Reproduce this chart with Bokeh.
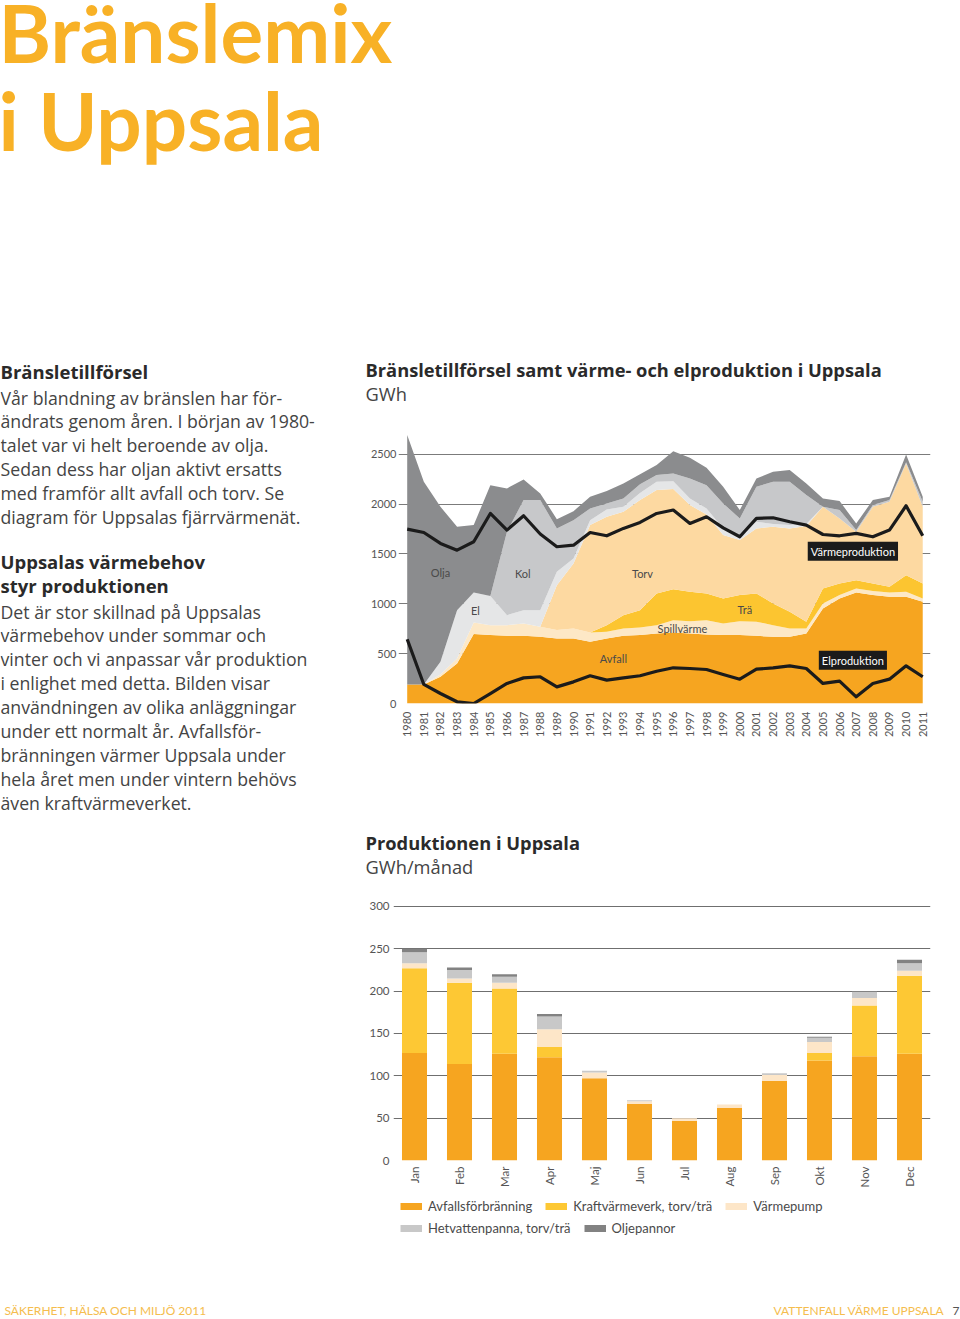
from math import pi
from bokeh.plotting import figure
from bokeh.models import (ColumnDataSource, Range1d, FactorRange, FixedTicker,
                          Label, Legend, LegendItem, Plot)
from bokeh.layouts import column, row
from bokeh.core.properties import value
from bokeh.embed import file_html
from bokeh.resources import INLINE

FONT = "Lato"
BODY_FONT = "Open Sans"

# ---------------- texts ----------------
page_title = ["Bränslemix", "i Uppsala"]
head1 = ["Bränsletillförsel"]
body1 = ["Vår blandning av bränslen har för-",
         "ändrats genom åren. I början av 1980-",
         "talet var vi helt beroende av olja.",
         "Sedan dess har oljan aktivt ersatts",
         "med framför allt avfall och torv. Se",
         "diagram för Uppsalas fjärrvärmenät."]
head2 = ["Uppsalas värmebehov", "styr produktionen"]
body2 = ["Det är stor skillnad på Uppsalas",
         "värmebehov under sommar och",
         "vinter och vi anpassar vår produktion",
         "i enlighet med detta. Bilden visar",
         "användningen av olika anläggningar",
         "under ett normalt år. Avfallsför-",
         "bränningen värmer Uppsala under",
         "hela året men under vintern behövs",
         "även kraftvärmeverket."]
chart1_title = "Bränsletillförsel samt värme- och elproduktion i Uppsala"
chart1_unit = "GWh"
chart2_title = "Produktionen i Uppsala"
chart2_unit = "GWh/månad"
footer_left = "SÄKERHET, HÄLSA OCH MILJÖ 2011"
footer_right = "VATTENFALL VÄRME UPPSALA"
page_no = "7"

# ---------------- area chart data (GWh) ----------------
years = list(range(1980, 2012))
avfall = [191, 191, 268, 401, 696, 686, 679, 679, 669, 652,
          652, 619, 652, 679, 686, 702, 712, 702, 692, 686,
          686, 679, 669, 669, 702, 953, 1053, 1114, 1087, 1070,
          1070, 1020]
spillvarme = [0, 0, 22, 50, 117, 100, 107, 124, 100, 84,
              100, 93, 67, 73, 76, 84, 124, 124, 144, 117,
              140, 141, 117, 83, 50, 50, 34, 40, 40, 44,
              50, 33]
tra = [0, 0, 0, 0, 0, 0, 0, 0, 0, 0,
       0, 0, 67, 134, 174, 318, 311, 294, 268, 250,
       261, 284, 217, 168, 67, 151, 117, 83, 77, 56,
       167, 151]
torv = [0, 0, 0, 0, 0, 0, 0, 0, 0, 451,
        652, 1077, 1087, 1037, 1104, 1036, 1003, 870, 792, 636,
        552, 652, 769, 836, 961, 819, 652, 485, 769, 853,
        1121, 769]
el = [0, 0, 128, 485, 301, 291, 100, 133, 167, 134,
      51, 50, 73, 50, 70, 84, 80, 67, 60, 67,
      50, 66, 28, 33, 20, 0, 0, 0, 0, 0,
      0, 0]
kol = [0, 0, 0, 0, 0, 0, 836, 1104, 1104, 435,
       384, 117, 60, 84, 90, 67, 77, 200, 234, 250,
       167, 351, 424, 435, 290, 0, 84, 17, 17, 17,
       12, 50]
olja = [2501, 2033, 1555, 836, 675, 1113, 435, 207, 67, 93,
        90, 117, 124, 150, 100, 100, 224, 207, 174, 168,
        84, 84, 100, 117, 117, 84, 90, 67, 50, 33,
        78, 50]
varmeproduktion = [1749, 1715, 1605, 1538, 1622, 1906, 1739, 1883, 1700, 1572,
                   1588, 1715, 1682, 1756, 1816, 1906, 1940, 1806, 1873, 1762,
                   1672, 1856, 1863, 1823, 1789, 1695, 1682, 1706, 1672, 1739,
                   1983, 1682]
elproduktion = [645, 191, 100, 17, 0, 100, 201, 257, 268, 167,
                217, 278, 234, 257, 278, 324, 358, 351, 341, 291,
                244, 344, 358, 378, 351, 201, 224, 67, 201, 244,
                378, 268]
area_ticks = [0, 500, 1000, 1500, 2000, 2500]

# ---------------- bar chart data (GWh/månad) ----------------
months = ["Jan", "Feb", "Mar", "Apr", "Maj", "Jun",
          "Jul", "Aug", "Sep", "Okt", "Nov", "Dec"]
avfallsforbranning = [127, 114, 126, 122, 97, 67, 47, 62, 94, 118, 123, 126]
kraftvarmeverk = [100, 96, 77, 12, 0, 0, 0, 0, 0, 9, 60, 92]
varmepump = [6, 5, 7, 21, 7, 3, 3, 4, 7, 13, 9, 6]
hetvattenpanna = [13, 10, 7, 15, 2, 1, 0, 0, 2, 5, 7, 9]
oljepannor = [4, 3, 3, 3, 0, 0, 0, 0, 0, 1, 1, 4]
bar_ticks = [0, 50, 100, 150, 200, 250, 300]
bar_labels = ["Avfallsförbränning", "Kraftvärmeverk, torv/trä", "Värmepump",
              "Hetvattenpanna, torv/trä", "Oljepannor"]

# ---------------- styles ----------------
C_TITLE = "#f8b126"
C_HEAD = "#2a2a2a"
C_BODY = "#444444"
C_AXIS = "#555555"
C_FOOT = "#f5bd4e"
area_colors = ["#f6a520", "#fde8c6", "#fcc530", "#fdd9a1", "#e5e6e7", "#c7c8ca", "#8b8c8e"]
bar_colors = ["#f6a520", "#fdc834", "#fde6c8", "#c8c8c8", "#828282"]
RIGHT_W = 595
BL, BR = 33, 30          # left / right borders of the area chart
BAR_BL = 28              # left border of the bar chart
CAN_UNALIGN = "frame_align" in Plot.properties()


def unalign(p):
    if CAN_UNALIGN:
        p.frame_align = False


def text_fig(w, h):
    p = figure(width=w, height=h, x_range=Range1d(0, w), y_range=Range1d(h, 0),
               x_axis_type=None, y_axis_type=None, output_backend="svg",
               toolbar_location=None, min_border=0)
    p.grid.visible = False
    p.outline_line_color = None
    unalign(p)
    return p


def put(p, xs, ys, texts, size, color, style="normal", align="left", font=FONT):
    src = ColumnDataSource(dict(x=xs, y=ys, t=texts))
    p.text(x="x", y="y", text="t", source=src, text_font=value(font),
           text_font_size=size, text_color=color, text_font_style=style,
           text_align=align, text_baseline="middle")


# ---------------- top title ----------------
top = text_fig(960, 355)
put(top, [-2, -2], [31, 119], page_title, "80px", C_TITLE, "bold")

# ---------------- left column ----------------
left = text_fig(365, 962)
put(left, [0], [16], head1, "18.5px", C_HEAD, "bold", font=BODY_FONT)
put(left, [0] * len(body1), [42 + 23.9 * i for i in range(len(body1))], body1, "17.7px", C_BODY,
    font=BODY_FONT)
put(left, [0, 0], [206, 230], head2, "18.5px", C_HEAD, "bold", font=BODY_FONT)
put(left, [0] * len(body2), [256 + 23.9 * i for i in range(len(body2))], body2, "17.7px", C_BODY,
    font=BODY_FONT)
put(left, [4], [955], [footer_left], "12px", C_FOOT)

# ---------------- area chart title ----------------
t1 = text_fig(RIGHT_W, 70)
put(t1, [0], [14], [chart1_title], "18.3px", C_HEAD, "bold", font=BODY_FONT)
put(t1, [0], [38], [chart1_unit], "18.3px", C_BODY, font=BODY_FONT)

# ---------------- area chart ----------------
px_per_year = 16.63
frame_w = RIGHT_W - BL - BR
x0 = 1980 - 8.7 / px_per_year
area = figure(width=RIGHT_W, height=320, output_backend="svg", toolbar_location=None,
              x_range=Range1d(x0, x0 + frame_w / px_per_year), y_range=Range1d(0, 2788),
              min_border_left=BL, min_border_right=BR, min_border_top=0, min_border_bottom=42)
area.outline_line_color = None
unalign(area)
src = ColumnDataSource(dict(year=years, avfall=avfall, spill=spillvarme, tra=tra, torv=torv,
                            el=el, kol=kol, olja=olja))
area.varea_stack(stackers=["avfall", "spill", "tra", "torv", "el", "kol", "olja"], x="year",
                 color=area_colors, source=src)
area.line(years, varmeproduktion, line_color="#1b1b1b", line_width=3.2, line_join="round")
area.line(years, elproduktion, line_color="#1b1b1b", line_width=3.2, line_join="round")
area.xgrid.visible = False
area.ygrid.ticker = FixedTicker(ticks=area_ticks)
area.ygrid.grid_line_color = "#7b7b7b"
area.ygrid.grid_line_width = 1.1
area.yaxis.ticker = FixedTicker(ticks=area_ticks)
area.xaxis.ticker = FixedTicker(ticks=years)
area.xaxis.major_label_orientation = pi / 2
for ax in (area.xaxis, area.yaxis):
    ax.axis_line_color = None
    ax.major_tick_line_color = None
    ax.minor_tick_line_color = None
    ax.major_tick_out = 0
    ax.major_tick_in = 0
    ax.major_label_text_font = FONT
    ax.major_label_text_font_size = "11px"
    ax.major_label_text_color = C_AXIS
area.yaxis.major_label_standoff = 2
area.xaxis.major_label_standoff = 8

for txt, xx, yy in [("Olja", 1982.0, 1317), ("Kol", 1986.95, 1307), ("Torv", 1994.15, 1307),
                    ("El", 1984.1, 936), ("Spillvärme", 1996.55, 755), ("Trä", 2000.3, 946),
                    ("Avfall", 1992.4, 455)]:
    area.add_layout(Label(x=xx, y=yy, text=txt, text_font=FONT, text_font_size="11px",
                          text_color="#4a4a4a", text_align="center", text_baseline="middle"))
for txt, xx, yy in [("Värmeproduktion", 2006.8, 1527), ("Elproduktion", 2006.8, 434)]:
    area.add_layout(Label(x=xx, y=yy, text=txt, text_font=FONT, text_font_size="11px",
                          text_color="white", text_align="center", text_baseline="middle",
                          background_fill_color="#1b1b1b", padding=3))

# ---------------- bar chart title ----------------
t2 = text_fig(RIGHT_W, 150)
put(t2, [0], [97], [chart2_title], "18.3px", C_HEAD, "bold", font=BODY_FONT)
put(t2, [0], [121], [chart2_unit], "18.3px", C_BODY, font=BODY_FONT)

# ---------------- bar chart ----------------
bars = figure(width=RIGHT_W, height=300, output_backend="svg", toolbar_location=None,
              x_range=FactorRange(*months, range_padding=-0.0333, range_padding_units="absolute"),
              y_range=Range1d(0, 307),
              min_border_left=BAR_BL, min_border_right=BR, min_border_top=5, min_border_bottom=35)
bars.outline_line_color = None
unalign(bars)
bsrc = ColumnDataSource(dict(m=months, a=avfallsforbranning, k=kraftvarmeverk, v=varmepump,
                             h=hetvattenpanna, o=oljepannor))
bars.vbar_stack(["a", "k", "v", "h", "o"], x="m", width=0.556, color=bar_colors,
                line_color=None, source=bsrc)
bars.xgrid.visible = False
bars.ygrid.ticker = FixedTicker(ticks=bar_ticks)
bars.ygrid.grid_line_color = "#6f6f6f"
bars.ygrid.grid_line_width = 1.1
bars.yaxis.ticker = FixedTicker(ticks=bar_ticks)
bars.xaxis.major_label_orientation = pi / 2
for ax in (bars.xaxis, bars.yaxis):
    ax.axis_line_color = None
    ax.major_tick_line_color = None
    ax.minor_tick_line_color = None
    ax.major_tick_out = 0
    ax.major_tick_in = 0
    ax.major_label_text_font = FONT
    ax.major_label_text_font_size = "11.5px"
    ax.major_label_text_color = C_AXIS
bars.yaxis.major_label_standoff = 4
bars.xaxis.major_label_standoff = 6

# ---------------- legend (separate strip) ----------------
legfig = text_fig(RIGHT_W, 45)
swatches = [legfig.line(x=[-50, -40], y=[-50, -50], line_color=c, line_width=7) for c in bar_colors]
leg_kw = dict(orientation="horizontal", glyph_width=22, glyph_height=16,
              label_height=16, label_standoff=6, spacing=13, padding=2, margin=0,
              border_line_color=None, background_fill_alpha=0, label_text_font=FONT,
              label_text_font_size="13px", label_text_color="#4a4a4a")
legx = 35 if CAN_UNALIGN else 2
leg1 = Legend(items=[LegendItem(label=bar_labels[i], renderers=[swatches[i]]) for i in range(3)],
              location=(legx, 26), **leg_kw)
leg2 = Legend(items=[LegendItem(label=bar_labels[i], renderers=[swatches[i]]) for i in range(3, 5)],
              location=(legx, 4), **leg_kw)
legfig.add_layout(leg1)
legfig.add_layout(leg2)

# ---------------- right footer ----------------
foot = text_fig(RIGHT_W, 77)
put(foot, [579], [70], [footer_right], "12px", C_FOOT, align="right")
put(foot, [587], [70], [page_no], "12px", "#555555")

layout = column(top, row(left, column(t1, area, t2, bars, legfig, foot)))
open("out.html", "w").write(file_html(layout, INLINE))
